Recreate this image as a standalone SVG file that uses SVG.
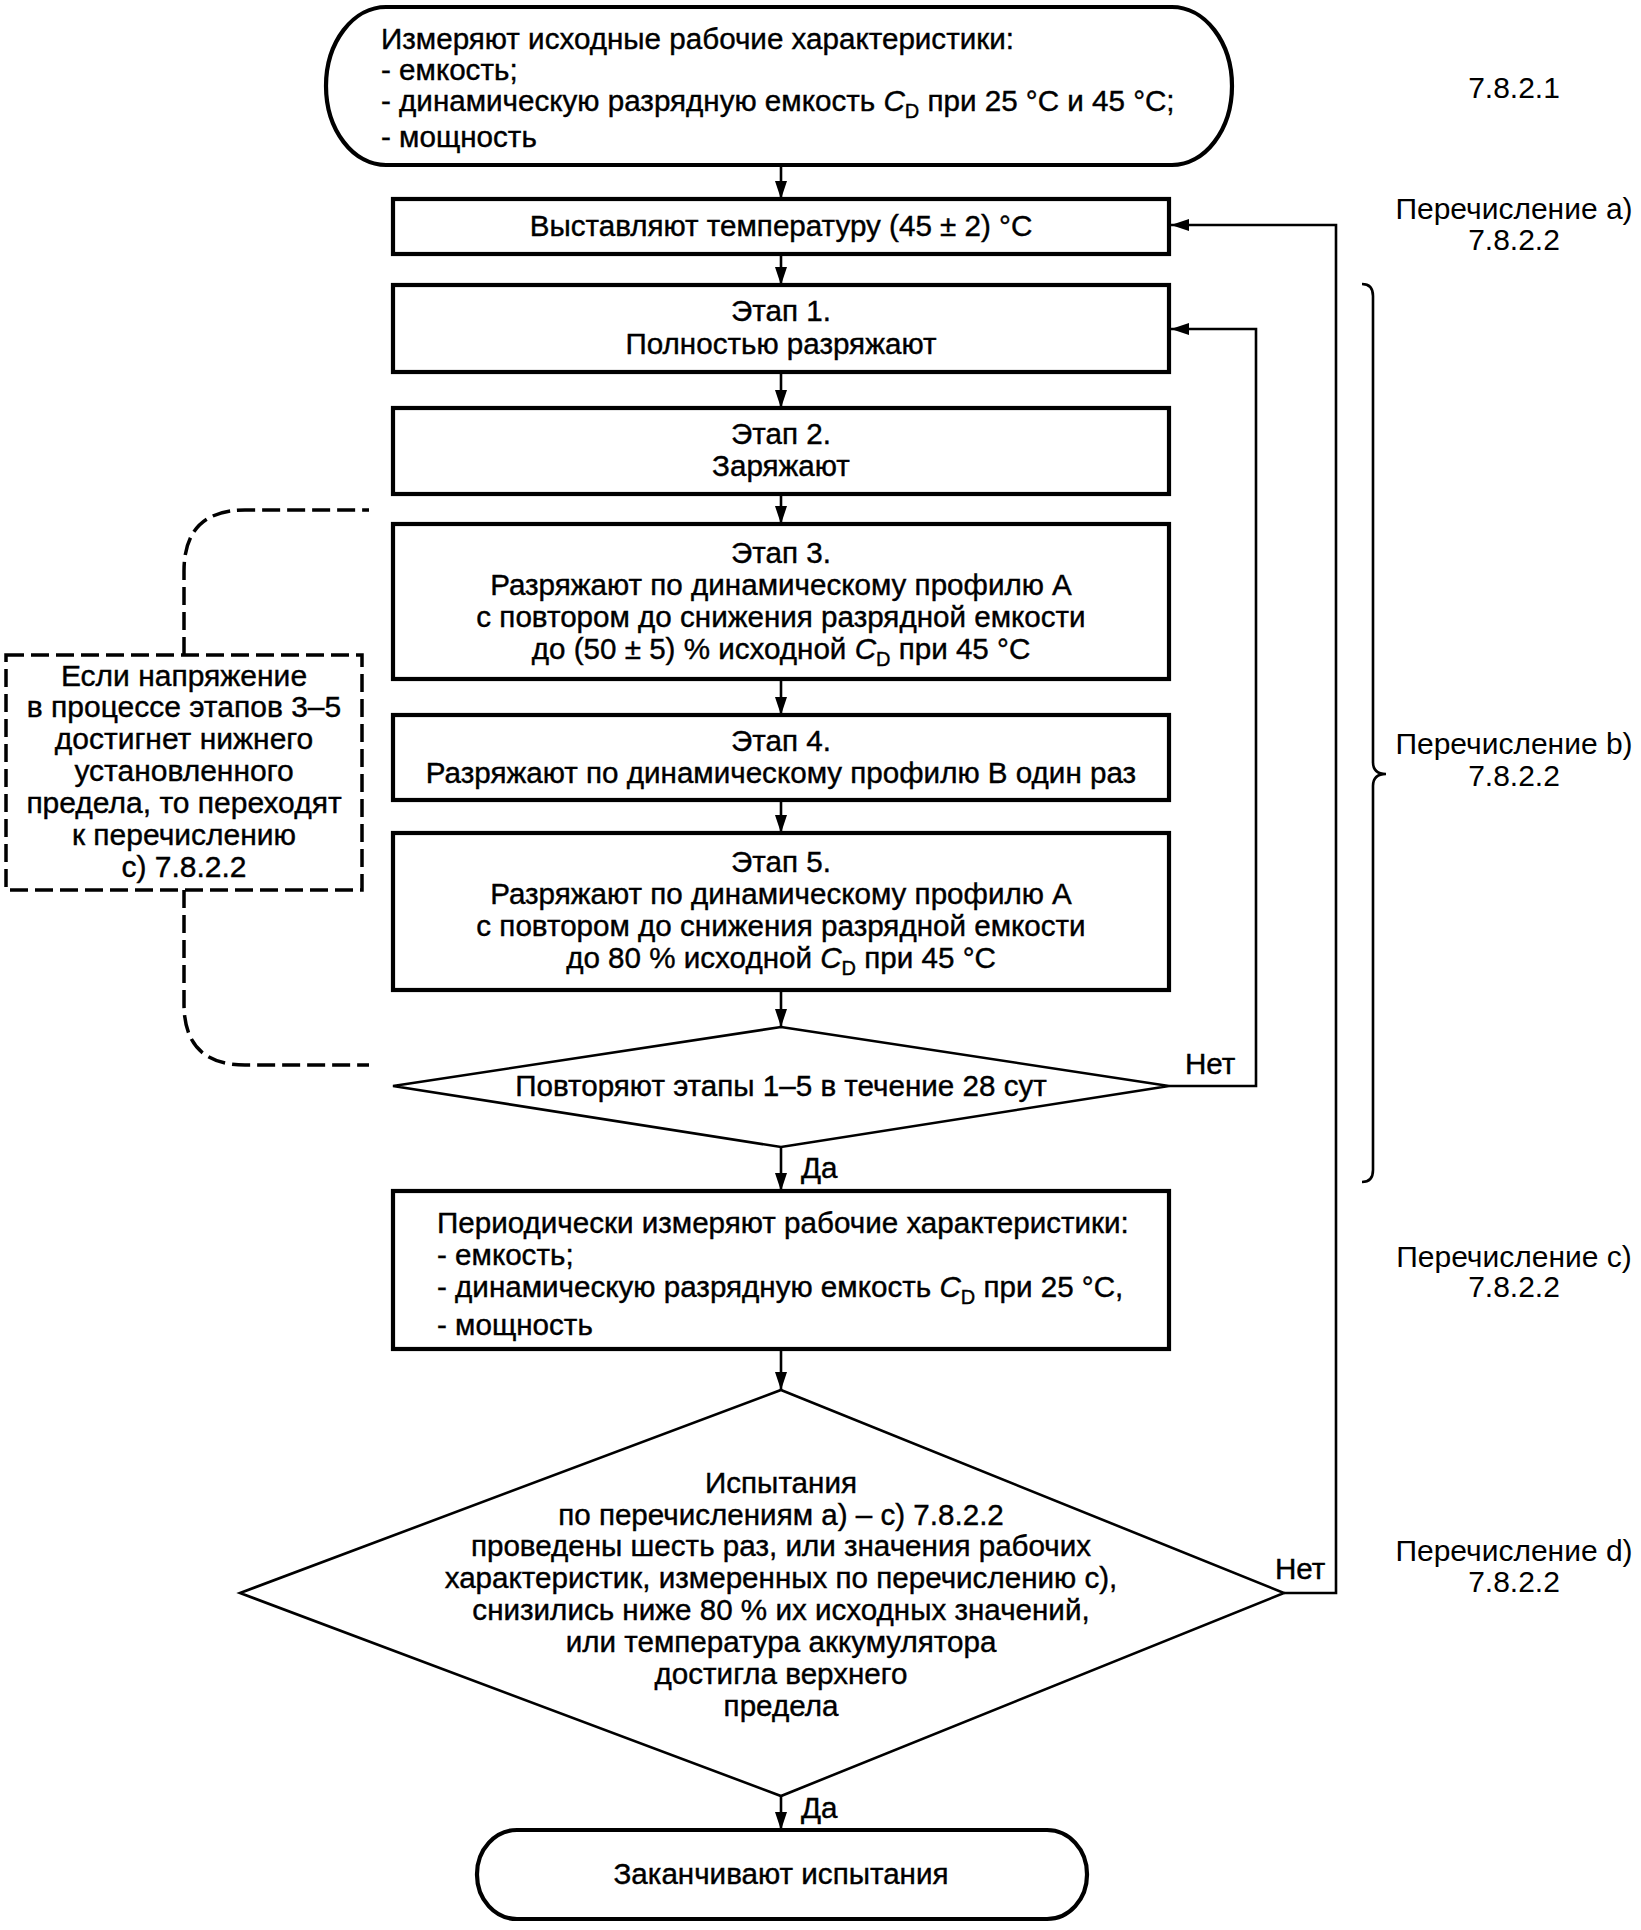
<svg xmlns="http://www.w3.org/2000/svg" width="1641" height="1930" viewBox="0 0 1641 1930">
<defs>
<marker id="arr" markerUnits="userSpaceOnUse" markerWidth="18" markerHeight="12" viewBox="0 0 18 12" refX="18" refY="6" orient="auto">
<path d="M0,0 L18,6 L0,12 z" fill="#000"/>
</marker>
<style>
.t{font-family:"Liberation Sans",Arial,sans-serif;font-size:29.6px;fill:#000;stroke:#000;stroke-width:0.4}
.m{text-anchor:middle}
.r{font-size:30px;stroke-width:0}
.box{fill:#fff;stroke:#000;stroke-width:4.2}
.dia{fill:#fff;stroke:#000;stroke-width:2.6}
.ln{fill:none;stroke:#000;stroke-width:2.6}
.dash{fill:none;stroke:#000;stroke-width:3.5;stroke-dasharray:18 7}
.sub{font-size:20px}
.it{font-style:italic}
.n{font-size:30px}
</style>
</defs>
<rect width="1641" height="1930" fill="#fff"/>
<g id="connectors">
<path class="ln" d="M781,165 L781,199" marker-end="url(#arr)"/>
<path class="ln" d="M781,254 L781,285" marker-end="url(#arr)"/>
<path class="ln" d="M781,372 L781,408" marker-end="url(#arr)"/>
<path class="ln" d="M781,494 L781,524" marker-end="url(#arr)"/>
<path class="ln" d="M781,679 L781,715" marker-end="url(#arr)"/>
<path class="ln" d="M781,800 L781,833" marker-end="url(#arr)"/>
<path class="ln" d="M781,990 L781,1027" marker-end="url(#arr)"/>
<path class="ln" d="M781,1147 L781,1191" marker-end="url(#arr)"/>
<path class="ln" d="M781,1349 L781,1390" marker-end="url(#arr)"/>
<path class="ln" d="M781,1796 L781,1830" marker-end="url(#arr)"/>
<path class="ln" d="M1169,1086 L1256,1086 L1256,329 L1171,329" marker-end="url(#arr)"/>
<path class="ln" d="M1284,1593 L1336,1593 L1336,225 L1171,225" marker-end="url(#arr)"/>
<path class="dash" d="M184,655 L184,571 Q184,510 245,510 L369,510"/>
<path class="dash" d="M184,890 L184,1004 Q184,1065 245,1065 L369,1065"/>
<text class="t" x="1185" y="1074">Нет</text>
<text class="t" x="801" y="1178">Да</text>
<text class="t" x="1275" y="1579">Нет</text>
<text class="t" x="801" y="1818">Да</text>
</g>
<g id="start">
<rect class="box" x="326" y="7" width="906" height="158" rx="60" ry="79"/>
<text class="t" x="381" y="49">Измеряют исходные рабочие характеристики:</text>
<text class="t" x="381" y="80">- емкость;</text>
<text class="t" x="381" y="111">- динамическую разрядную емкость <tspan class="it">C</tspan><tspan class="sub" dy="7">D</tspan><tspan dy="-7"> при 25 °C и 45 °C;</tspan></text>
<text class="t" x="381" y="147">- мощность</text>
</g>
<g id="set-temp">
<rect class="box" x="393" y="199" width="776" height="55"/>
<text class="t m" x="781" y="236">Выставляют температуру (45 ± 2) °C</text>
</g>
<g id="stage1">
<rect class="box" x="393" y="285" width="776" height="87"/>
<text class="t m" x="781" y="321">Этап 1.</text>
<text class="t m" x="781" y="354">Полностью разряжают</text>
</g>
<g id="stage2">
<rect class="box" x="393" y="408" width="776" height="86"/>
<text class="t m" x="781" y="444">Этап 2.</text>
<text class="t m" x="781" y="476">Заряжают</text>
</g>
<g id="stage3">
<rect class="box" x="393" y="524" width="776" height="155"/>
<text class="t m" x="781" y="563">Этап 3.</text>
<text class="t m" x="781" y="595">Разряжают по динамическому профилю А</text>
<text class="t m" x="781" y="627">с повтором до снижения разрядной емкости</text>
<text class="t m" x="781" y="659">до (50 ± 5) % исходной <tspan class="it">C</tspan><tspan class="sub" dy="7">D</tspan><tspan dy="-7"> при 45 °C</tspan></text>
</g>
<g id="stage4">
<rect class="box" x="393" y="715" width="776" height="85"/>
<text class="t m" x="781" y="751">Этап 4.</text>
<text class="t m" x="781" y="783">Разряжают по динамическому профилю В один раз</text>
</g>
<g id="stage5">
<rect class="box" x="393" y="833" width="776" height="157"/>
<text class="t m" x="781" y="872">Этап 5.</text>
<text class="t m" x="781" y="904">Разряжают по динамическому профилю А</text>
<text class="t m" x="781" y="936">с повтором до снижения разрядной емкости</text>
<text class="t m" x="781" y="968">до 80 % исходной <tspan class="it">C</tspan><tspan class="sub" dy="7">D</tspan><tspan dy="-7"> при 45 °C</tspan></text>
</g>
<g id="repeat-decision">
<polygon class="dia" points="781,1027 1169,1086 781,1147 393,1086"/>
<text class="t m" x="781" y="1096">Повторяют этапы 1–5 в течение 28 сут</text>
</g>
<g id="periodic">
<rect class="box" x="393" y="1191" width="776" height="158"/>
<text class="t" x="437" y="1233">Периодически измеряют рабочие характеристики:</text>
<text class="t" x="437" y="1265">- емкость;</text>
<text class="t" x="437" y="1297">- динамическую разрядную емкость <tspan class="it">C</tspan><tspan class="sub" dy="7">D</tspan><tspan dy="-7"> при 25 °C,</tspan></text>
<text class="t" x="437" y="1335">- мощность</text>
</g>
<g id="final-decision">
<polygon class="dia" points="781,1390 1284,1593 781,1796 240,1593"/>
<text class="t m" x="781" y="1493">Испытания</text>
<text class="t m" x="781" y="1525">по перечислениям а) – с) 7.8.2.2</text>
<text class="t m" x="781" y="1556">проведены шесть раз, или значения рабочих</text>
<text class="t m" x="781" y="1588">характеристик, измеренных по перечислению с),</text>
<text class="t m" x="781" y="1620">снизились ниже 80 % их исходных значений,</text>
<text class="t m" x="781" y="1652">или температура аккумулятора</text>
<text class="t m" x="781" y="1684">достигла верхнего</text>
<text class="t m" x="781" y="1716">предела</text>
</g>
<g id="end">
<rect class="box" x="477" y="1830" width="610" height="89" rx="40" ry="44"/>
<text class="t m" x="781" y="1884">Заканчивают испытания</text>
</g>
<g id="note">
<rect class="dash" x="6" y="655" width="356" height="235"/>
<text class="t m n" x="184" y="686">Если напряжение</text>
<text class="t m n" x="184" y="717">в процессе этапов 3–5</text>
<text class="t m n" x="184" y="749">достигнет нижнего</text>
<text class="t m n" x="184" y="781">установленного</text>
<text class="t m n" x="184" y="813">предела, то переходят</text>
<text class="t m n" x="184" y="845">к перечислению</text>
<text class="t m n" x="184" y="877">с) 7.8.2.2</text>
</g>
<g id="refs">
<text class="t m r" x="1514" y="98">7.8.2.1</text>
<text class="t m r" x="1514" y="219">Перечисление а)</text>
<text class="t m r" x="1514" y="250">7.8.2.2</text>
<path class="ln" d="M1362,284 Q1373,284 1373,296 L1373,762 Q1373,774 1386,774 Q1373,774 1373,786 L1373,1170 Q1373,1182 1362,1182"/>
<text class="t m r" x="1514" y="754">Перечисление b)</text>
<text class="t m r" x="1514" y="786">7.8.2.2</text>
<text class="t m r" x="1514" y="1267">Перечисление с)</text>
<text class="t m r" x="1514" y="1297">7.8.2.2</text>
<text class="t m r" x="1514" y="1561">Перечисление d)</text>
<text class="t m r" x="1514" y="1592">7.8.2.2</text>
</g>
</svg>
